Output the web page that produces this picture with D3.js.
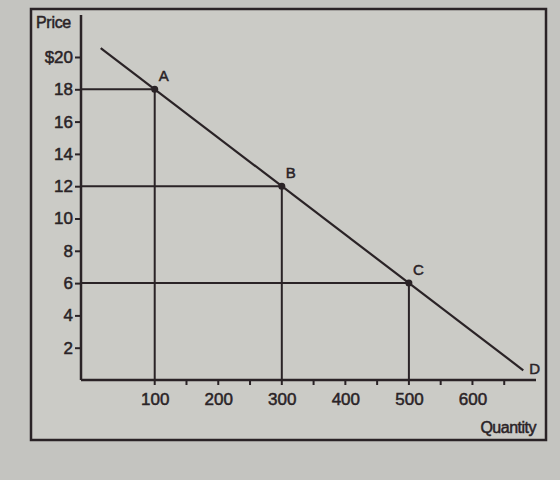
<!DOCTYPE html>
<html lang="en"><head><meta http-equiv="Content-Type" content="text/html; charset=UTF-8">
    <script src="https://d3js.org/d3.v7.min.js"></script>
    <style>
        body {margin: 0; background: #c4c4c0;}
        #demand_visualization {width: 560px; height: 480px;}
        text {font-family: "Liberation Sans", Arial, sans-serif; fill: #2a2326; stroke: #2a2326; stroke-width: 0.5px;}
    </style>
</head>
<body>
    <div id="demand_visualization"></div>
<script>
//here comes the data
var priceTicks = [2, 4, 6, 8, 10, 12, 14, 16, 18, 20];
var priceTickLabels = ["2", "4", "6", "8", "10", "12", "14", "16", "18", "$20"];
var quantityTicks = [100, 200, 300, 400, 500, 600];
var quantityMinorTicks = [150, 200, 250, 350, 400, 450, 550, 600, 650];
var pointNames = ["A", "B", "C"];
var pointQuantity = [100, 300, 500];
var pointPrice = [18, 12, 6];
var demandQuantity = [15, 680];
var demandPrice = [20.55, 0.6];
//end of data

var x, y, svg;
var ink = "#2a2326";

function demandChart() {

    svg = d3.select("#demand_visualization")
    .append("svg")
        .attr("width", 560)
        .attr("height", 480);

    // paper
    svg.append("rect")
    .attr("x", 31).attr("y", 9)
    .attr("width", 515).attr("height", 431)
    .attr("fill", "#cbcbc6")
    .attr("stroke", ink)
    .attr("stroke-width", 2.5);

    x = d3.scaleLinear()
    .domain([-16, 700])
    .range([81, 536]);

    y = d3.scaleLinear()
    .domain([0, 22.6])
    .range([380, 15]);

    // y axis
    var yAxis = d3.axisLeft(y)
        .tickValues(priceTicks)
        .tickSize(6)
        .tickPadding(2)
        .tickFormat(function(v, i) { return priceTickLabels[i]; });
    var gy = svg.append("g")
    .attr("transform", "translate(" + x(-16) + ",0)")
    .call(yAxis);
    gy.select(".domain").remove();
    gy.selectAll("line").attr("stroke", ink).attr("stroke-width", 2);
    gy.selectAll("text").style("font-size", "17px").attr("fill", ink);

    // x axis
    var xAxis = d3.axisBottom(x)
        .tickValues(quantityTicks)
        .tickSize(0)
        .tickPadding(13)
        .tickFormat(d3.format("d"));
    var gx = svg.append("g")
    .attr("transform", "translate(0," + y(0) + ")")
    .call(xAxis);
    gx.select(".domain").remove();
    gx.selectAll("text").style("font-size", "17px").attr("fill", ink);

    svg.append("g").selectAll("line")
    .data(quantityMinorTicks)
    .enter()
    .append("line")
    .attr("x1", function(v) { return x(v); })
    .attr("x2", function(v) { return x(v); })
    .attr("y1", y(0))
    .attr("y2", y(0) + 5)
    .attr("stroke", ink)
    .attr("stroke-width", 2);

    // axis lines
    svg.append("line")
    .attr("x1", x(-16)).attr("x2", x(-16))
    .attr("y1", y(22.6)).attr("y2", y(0))
    .attr("stroke", ink).attr("stroke-width", 2.5);
    svg.append("line")
    .attr("x1", x(-16)).attr("x2", x(700))
    .attr("y1", y(0)).attr("y2", y(0))
    .attr("stroke", ink).attr("stroke-width", 2.5);

    // guide lines to points
    svg.append("g").selectAll("line")
    .data(pointNames)
    .enter()
    .append("line")
    .attr("x1", x(-16))
    .attr("x2", function(v, i) { return x(pointQuantity[i]); })
    .attr("y1", function(v, i) { return y(pointPrice[i]); })
    .attr("y2", function(v, i) { return y(pointPrice[i]); })
    .attr("stroke", ink).attr("stroke-width", 2);

    svg.append("g").selectAll("line")
    .data(pointNames)
    .enter()
    .append("line")
    .attr("x1", function(v, i) { return x(pointQuantity[i]); })
    .attr("x2", function(v, i) { return x(pointQuantity[i]); })
    .attr("y1", function(v, i) { return y(pointPrice[i]); })
    .attr("y2", y(0) + 5)
    .attr("stroke", ink).attr("stroke-width", 2);

    // demand curve
    var line = d3.line()
        .x(function(v) { return x(v[0]); })
        .y(function(v) { return y(v[1]); });
    svg.append("path")
    .datum(d3.zip(demandQuantity, demandPrice))
    .attr("d", line)
    .attr("fill", "none")
    .attr("stroke", ink)
    .attr("stroke-width", 2.2);

    svg.append("g").selectAll("circle")
    .data(pointNames)
    .enter()
    .append("circle")
    .attr("cx", function(v, i) { return x(pointQuantity[i]); })
    .attr("cy", function(v, i) { return y(pointPrice[i]); })
    .attr("r", 3.5)
    .attr("fill", ink);

    svg.append("g").selectAll("text")
    .data(pointNames)
    .enter()
    .append("text")
    .attr("x", function(v, i) { return x(pointQuantity[i]) + 4; })
    .attr("y", function(v, i) { return y(pointPrice[i]) - 8; })
    .style("font-size", "15px")
    .text(function(v) { return v; });

    svg.append("text")
    .attr("x", x(demandQuantity[1]) + 6)
    .attr("y", y(demandPrice[1]) + 4)
    .style("font-size", "15px")
    .text("D");

    // axis titles
    svg.append("text")
    .attr("x", 36)
    .attr("y", 28)
    .style("font-size", "16px")
    .style("letter-spacing", "-0.3px")
    .text("Price");

    svg.append("text")
    .attr("x", 536)
    .attr("y", 433)
    .attr("text-anchor", "end")
    .style("font-size", "16px")
    .style("letter-spacing", "-0.5px")
    .text("Quantity");
}

window.onload = demandChart;
</script>
</body>
</html>
